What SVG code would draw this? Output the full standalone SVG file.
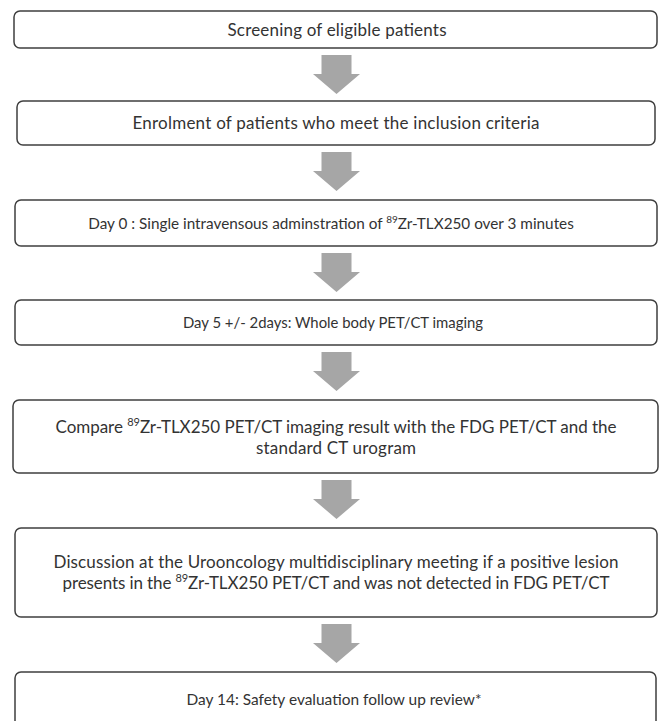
<svg xmlns="http://www.w3.org/2000/svg" xmlns:xlink="http://www.w3.org/1999/xlink" width="662" height="721" viewBox="0 0 662 721">
<style>
.box{fill:#fff;stroke:#3f3f3f;stroke-width:1.5}
.t{font-family:Lato,"Liberation Sans",sans-serif;font-size:17px;fill:#333;text-anchor:middle}
.s{font-size:16px}
.s3{font-size:15.3px}
.sup{font-size:11px}
.sup2{font-size:10px}
.arr{fill:#a6a6a6}
</style>
<defs>
<path id="arrow" d="M-15,0 H15 V19 H23.5 L0,39 L-23.5,19 H-15 Z"/>
</defs>
<rect width="662" height="721" fill="#fff"/>
<g id="connectors" class="arr">
<use xlink:href="#arrow" href="#arrow" x="336.5" y="55"/>
<use xlink:href="#arrow" href="#arrow" x="336.5" y="152"/>
<use xlink:href="#arrow" href="#arrow" x="336.5" y="253"/>
<use xlink:href="#arrow" href="#arrow" x="336.5" y="352"/>
<use xlink:href="#arrow" href="#arrow" x="336.5" y="480"/>
<use xlink:href="#arrow" href="#arrow" x="336.5" y="624"/>
</g>
<g id="n1">
<rect class="box" x="14" y="11" width="643" height="37" rx="6"/>
<text class="t" x="337" y="36" textLength="219">Screening of eligible patients</text>
</g>
<g id="n2">
<rect class="box" x="17" y="101" width="638" height="44" rx="6"/>
<text class="t" x="336" y="129" textLength="407">Enrolment of patients who meet the inclusion criteria</text>
</g>
<g id="n3">
<rect class="box" x="15" y="200" width="642" height="46" rx="6"/>
<text class="t s3" x="331" y="228.5">Day 0 : Single intravensous adminstration of <tspan class="sup2" dy="-6">89</tspan><tspan dy="6">Zr-TLX250 over 3 minutes</tspan></text>
</g>
<g id="n4">
<rect class="box" x="15" y="300" width="642" height="45" rx="6"/>
<text class="t s" x="333" y="328" textLength="300" lengthAdjust="spacingAndGlyphs">Day 5 +/- 2days: Whole body PET/CT imaging</text>
</g>
<g id="n5">
<rect class="box" x="13" y="400" width="645" height="73" rx="6"/>
<text class="t" x="336" y="433" textLength="561">Compare <tspan class="sup" dy="-7">89</tspan><tspan dy="7">Zr-TLX250 PET/CT imaging result with the FDG PET/CT and the</tspan></text>
<text class="t" x="336" y="454" textLength="160">standard CT urogram</text>
</g>
<g id="n6">
<rect class="box" x="15" y="528" width="642" height="89" rx="6"/>
<text class="t" x="336" y="568" textLength="565">Discussion at the Urooncology multidisciplinary meeting if a positive lesion</text>
<text class="t" x="336" y="589" textLength="547">presents in the <tspan class="sup" dy="-7">89</tspan><tspan dy="7">Zr-TLX250 PET/CT and was not detected in FDG PET/CT</tspan></text>
</g>
<g id="n7">
<rect class="box" x="15" y="672" width="641" height="60" rx="6"/>
<text class="t s" x="334" y="705" textLength="295" lengthAdjust="spacingAndGlyphs">Day 14: Safety evaluation follow up review*</text>
</g>
</svg>
